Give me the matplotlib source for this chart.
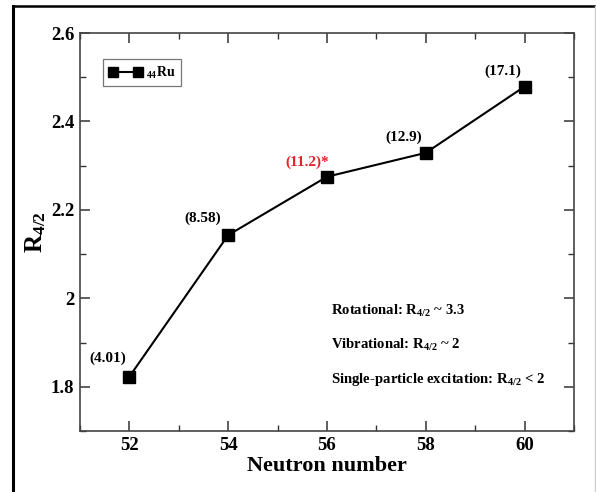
import matplotlib
matplotlib.use("Agg")
import matplotlib.pyplot as plt
from matplotlib.lines import Line2D
from matplotlib.ticker import MultipleLocator

# data
neutrons = [52, 54, 56, 58, 60]
r42 = [1.823, 2.143, 2.275, 2.329, 2.479]
point_labels = ["(4.01)", "(8.58)", "(11.2)*", "(12.9)", "(17.1)"]
label_colors = ["black", "black", "#e3242b", "black", "black"]
label_offsets = [(-22, 18), (-26, 17), (-20, 14), (-22, 16), (-22, 15)]  # pixels

notes = [
    r"Rotational: R$_{4/2}$ ~ 3.3",
    r"Vibrational: R$_{4/2}$ ~ 2",
    r"Single-particle excitation: R$_{4/2}$ < 2",
]
note_y = [0.291, 0.206, 0.121]

plt.rcParams["font.family"] = ["Liberation Serif", "DejaVu Serif"]
plt.rcParams["font.weight"] = "bold"
plt.rcParams["mathtext.fontset"] = "custom"
plt.rcParams["mathtext.rm"] = "Liberation Serif:bold"
plt.rcParams["mathtext.it"] = "Liberation Serif:bold:italic"
plt.rcParams["mathtext.bf"] = "Liberation Serif:bold"

fig = plt.figure(figsize=(5.96, 4.92), dpi=100)
ax = fig.add_axes([80 / 596, 61 / 492, 494 / 596, 398 / 492])

ax.plot(neutrons, r42, color="black", lw=1.5, marker="s", ms=8.5,
        label=r"$_{44}$Ru")

for x, y, txt, c, off in zip(neutrons, r42, point_labels, label_colors, label_offsets):
    ax.annotate(txt, (x, y), xytext=off, textcoords="offset pixels",
                ha="center", va="center", fontsize=11, fontweight="bold", color=c)

for txt, y in zip(notes, note_y):
    ax.text(0.508, y, txt, transform=ax.transAxes, fontsize=10.6,
            fontweight="bold", va="baseline", ha="left")

ax.set_xlim(51, 61)
ax.set_ylim(1.7, 2.6)
ax.xaxis.set_major_locator(MultipleLocator(2))
ax.xaxis.set_minor_locator(MultipleLocator(1))
ax.yaxis.set_major_locator(MultipleLocator(0.2))
ax.yaxis.set_minor_locator(MultipleLocator(0.1))
ax.set_xticks([52, 54, 56, 58, 60])
ax.set_yticks([1.8, 2.0, 2.2, 2.4, 2.6], ["1.8", "2", "2.2", "2.4", "2.6"])

ax.tick_params(which="both", direction="in", top=True, right=True,
               labelsize=13.5, colors="#333333", labelcolor="black")
ax.tick_params(which="major", length=7, width=1.1, pad=4)
ax.tick_params(which="minor", length=4, width=1.0)
for s in ax.spines.values():
    s.set_linewidth(1.2)
    s.set_color("#444444")

ax.set_xlabel("Neutron number", fontsize=16, fontweight="bold", labelpad=2)
ax.set_ylabel(r"R$_{4/2}$", fontsize=18, fontweight="bold", labelpad=2)

leg = ax.legend(loc="upper left", bbox_to_anchor=(0.047, 0.935), borderaxespad=0,
                numpoints=2, fancybox=False, framealpha=1, edgecolor="#777777",
                fontsize=10, handlelength=2.4, borderpad=0.4, handletextpad=0.3,
                markerscale=0.85)
leg.get_frame().set_linewidth(0.9)

# outer frame of the original figure
fig.add_artist(Line2D([13 / 596, 13 / 596], [0, 1 - 6 / 492], color="black", lw=2.2))
fig.add_artist(Line2D([13 / 596, 1], [1 - 6 / 492, 1 - 6 / 492], color="black", lw=1.8))
fig.add_artist(Line2D([595 / 596, 595 / 596], [0, 1 - 6 / 492], color="#cccccc", lw=1))

fig.savefig("out.png", dpi=100)
